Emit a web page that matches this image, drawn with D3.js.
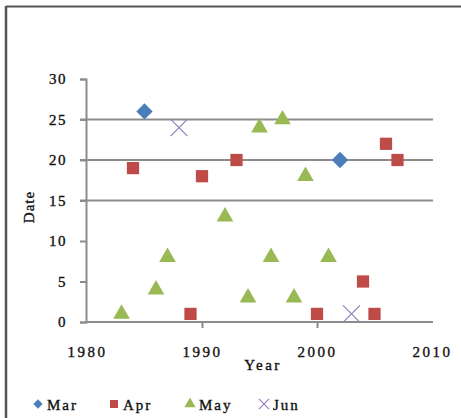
<!DOCTYPE html>
<html><head><meta charset="utf-8">
<script src="https://cdn.jsdelivr.net/npm/d3@7"></script>
<style>
body{margin:0;background:#fff;}
text{font-family:"Liberation Serif","Times New Roman",serif;fill:#111;stroke:#111;stroke-width:0.35px;}
</style></head>
<body><svg id="c" width="461" height="418"></svg>
<script>
const xTicks = [1980, 1990, 2000, 2010];
const yTicks = [0, 5, 10, 15, 20, 25, 30];
const gridValues = [15, 20, 25];
const marYears = [1985, 2002];
const marDates = [26, 20];
const aprYears = [1984, 1989, 1990, 1993, 2000, 2004, 2005, 2006, 2007];
const aprDates = [19, 1, 18, 20, 1, 5, 1, 22, 20];
const mayYears = [1983, 1986, 1987, 1992, 1994, 1995, 1996, 1997, 1998, 1999, 2001];
const mayDates = [1, 4, 8, 13, 3, 24, 8, 25, 3, 18, 8];
const junYears = [1988, 2003];
const junDates = [24, 1];
const seriesNames = ["Mar", "Apr", "May", "Jun"];

const svg = d3.select("#c");
const x = d3.scaleLinear().domain([1980, 2010]).range([87, 432]);
const y = d3.scaleLinear().domain([0, 30]).range([322, 79]);
const axisCol = "#8c8c8c";

// frame
svg.append("line").attr("x1",6).attr("x2",461).attr("y1",6.5).attr("y2",6.5).attr("stroke","#555").attr("stroke-width",2);
svg.append("line").attr("x1",6).attr("x2",6).attr("y1",6).attr("y2",418).attr("stroke","#555").attr("stroke-width",2.5);

// gridlines
svg.selectAll(".grid").data(gridValues).enter().append("line")
  .attr("x1",80).attr("x2",433).attr("y1",d=>y(d)).attr("y2",d=>y(d))
  .attr("stroke",axisCol).attr("stroke-width",2);

// y axis
const yAxis = d3.axisLeft(y).tickValues(yTicks).tickSize(6).tickPadding(13);
const gy = svg.append("g").attr("transform","translate(86,0)").call(yAxis);
gy.select(".domain").attr("stroke",axisCol).attr("stroke-width",2);
gy.selectAll(".tick line").attr("stroke",axisCol).attr("stroke-width",2);
gy.selectAll(".tick text").style("font-size","15px").style("letter-spacing","1.5px").attr("fill","#111");

// x axis
const xAxis = d3.axisBottom(x).tickValues(xTicks).tickSize(6).tickPadding(18).tickFormat(d3.format("d"));
const gx = svg.append("g").attr("transform","translate(0,322)").call(xAxis);
gx.select(".domain").attr("stroke",axisCol).attr("stroke-width",2).attr("d","M86,0H433");
gx.selectAll(".tick line").attr("stroke",axisCol).attr("stroke-width",2)
  .attr("opacity",d=> (d===1990||d===2000)?1:0);
gx.selectAll(".tick text").style("font-size","15px").style("letter-spacing","2.5px").attr("fill","#111");

// axis titles
svg.append("text").attr("x",263).attr("y",370).attr("text-anchor","middle")
  .style("font-size","15px").style("letter-spacing","2.5px").text("Year");
svg.append("text").attr("transform","translate(34,207) rotate(-90)").attr("text-anchor","middle")
  .style("font-size","15px").style("letter-spacing","1px").text("Date");

// markers
const colors = {Mar:"#4a7ebb", Apr:"#be4b48", May:"#98b954", Jun:"#9682bd"};
function zip(a,b){return a.map((v,i)=>({yr:v,dt:b[i]}));}
const diamond = d3.symbol().type(d3.symbolDiamond2).size(170);
const square = d3.symbol().type(d3.symbolSquare).size(150);
const tri = d3.symbol().type(d3.symbolTriangle).size(120);
const cross = d3.symbol().type(d3.symbolX).size(190);

svg.selectAll(".mar").data(zip(marYears,marDates)).enter().append("path")
  .attr("d",diamond).attr("transform",d=>`translate(${x(d.yr)},${y(d.dt)})`).attr("fill",colors.Mar);
svg.selectAll(".apr").data(zip(aprYears,aprDates)).enter().append("path")
  .attr("d",square).attr("transform",d=>`translate(${x(d.yr)},${y(d.dt)})`).attr("fill",colors.Apr);
svg.selectAll(".may").data(zip(mayYears,mayDates)).enter().append("path")
  .attr("d",tri).attr("transform",d=>`translate(${x(d.yr)},${y(d.dt)})`).attr("fill",colors.May);
svg.selectAll(".jun").data(zip(junYears,junDates)).enter().append("path")
  .attr("d",cross).attr("transform",d=>`translate(${x(d.yr)},${y(d.dt)})`)
  .attr("fill","none").attr("stroke",colors.Jun).attr("stroke-width",1.3);

// legend
const legX = [38, 114, 190, 264];
const legSyms = [d3.symbol().type(d3.symbolDiamond2).size(55), d3.symbol().type(d3.symbolSquare).size(64),
  d3.symbol().type(d3.symbolTriangle).size(55), d3.symbol().type(d3.symbolX).size(70)];
const lg = svg.selectAll(".leg").data(seriesNames).enter().append("g")
  .attr("transform",(d,i)=>`translate(${legX[i]},404)`);
lg.append("path").attr("d",(d,i)=>legSyms[i]())
  .attr("fill",(d,i)=>i===3?"none":colors[d])
  .attr("stroke",(d,i)=>i===3?colors[d]:"none").attr("stroke-width",1.2);
lg.append("text").attr("x",9).attr("y",6).style("font-size","15px").style("letter-spacing","2px").text(d=>d);
</script></body></html>
